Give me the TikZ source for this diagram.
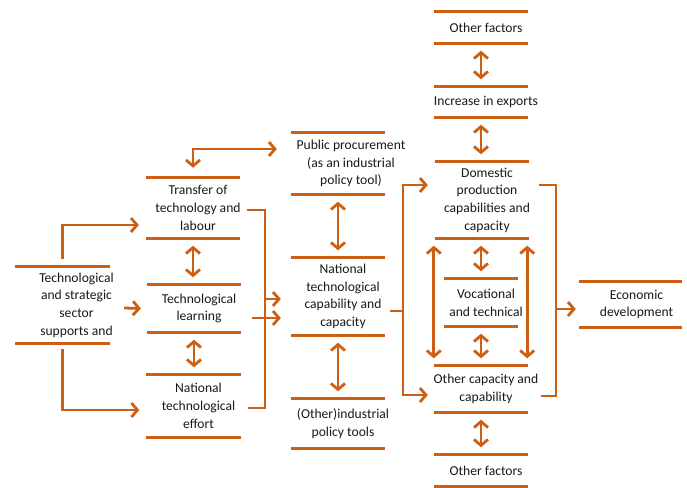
\documentclass[tikz,border=0pt]{standalone}
\usepackage{fontspec}
\setmainfont{Carlito}
\usetikzlibrary{arrows.meta}

\definecolor{rust}{RGB}{204,95,20}
\definecolor{ink}{RGB}{25,25,25}

\tikzset{
  box/.style 2 args={minimum width=#1pt,minimum height=#2pt,inner sep=0pt},
  txt/.style={font=\fontsize{13.6}{17.7}\selectfont,align=center,text=ink,inner sep=0pt,xshift=5pt},
  rule/.style={draw=rust,line width=2.8pt},
  link/.style={draw=rust,line width=2.8pt,line join=miter,>={Straight Barb[length=6pt,width=14pt]}},
  pair/.style={link,<->,shorten <=7.5pt,shorten >=7.5pt}
}

\begin{document}
\begin{tikzpicture}[x=1pt,y=-1pt]
		\useasboundingbox (0,0) rectangle (687,487);
		% left block
		\node[box={95}{76},label={[txt,xshift=9pt]center:Technological\\and strategic\\sector\\supports and}] (ltech) at (62.5,305) {};
		\node[box={94}{60},label={[txt]center:Transfer of\\technology and\\labour}] (transfer) at (193,208) {};
		\node[box={94}{47},label={[txt]center:Technological\\learning}] (learning) at (194,308.5) {};
		\node[box={94}{62},label={[txt]center:National\\technological\\effort}] (effort) at (193.5,406) {};
		% middle column
		\node[box={94}{61},label={[txt,xshift=8pt]center:Public procurement\\(as an industrial\\policy tool)}] (procure) at (338,163.5) {};
		\node[box={94}{77},label={[txt]center:National\\technological\\capability and\\capacity}] (natcap) at (338,296.5) {};
		\node[box={94}{49},label={[txt]center:(Other)industrial\\policy tools}] (othpol) at (338,423.5) {};
		% right column
		\node[box={94}{31},label={[txt]center:Other factors}] (topfac) at (481,27.5) {};
		\node[box={94}{30},label={[txt]center:Increase in exports}] (exports) at (481,102) {};
		\node[box={94}{76},label={[txt]center:Domestic\\production\\capabilities and\\capacity}] (domestic) at (482,200) {};
		\node[box={74}{47},label={[txt]center:Vocational\\and technical}] (vocat) at (481,302.5) {};
		\node[box={94}{46},label={[txt]center:Other capacity and\\capability}] (othcap) at (481,389) {};
		\node[box={94}{31},label={[txt]center:Other factors}] (botfac) at (481,470.5) {};
		\node[box={103}{45},label={[txt,xshift=1pt]center:Economic\\development}] (econ) at (630.5,304.5) {};
		\foreach \n in {ltech,transfer,learning,effort,procure,natcap,othpol,topfac,exports,domestic,vocat,othcap,botfac,econ}
			\draw[rule] (\n.north west) -- (\n.north east) (\n.south west) -- (\n.south east);
		% joints of the brackets
		\coordinate (mjoin) at (265,299);
		\coordinate (rjoin) at (403,311);
		\coordinate (ejoin) at (556,309);
		% left connectors
		\draw[link,->] ([yshift=8pt]ltech.north) |- ([shift={(-7pt,-17pt)}]transfer.west);
		\draw[link,->] ([yshift=-6pt]ltech.south) |- ([shift={(-7pt,-4pt)}]effort.west);
		\draw[link,->] ([shift={(14pt,-3pt)}]ltech.east) -- ([xshift=-6pt]learning.west);
		\draw[pair] (transfer.south) -- (transfer.south |- learning.north);
		\draw[pair] (learning.south) -- (learning.south |- effort.north);
		\draw[link,<->] ([yshift=10pt]transfer.north) |- ([shift={(-14pt,14.5pt)}]procure.west);
		\draw[link] ([shift={(7pt,-2pt)}]transfer.east) -| (mjoin) |- ([shift={(7pt,-2pt)}]effort.east);
		\draw[link,->] (mjoin) -- ([shift={(-10pt,-2.5pt)}]natcap.west);
		\draw[link,->] ([shift={(11pt,-9.5pt)}]learning.east) -- ([shift={(-10pt,-21.5pt)}]natcap.west);
		% middle connectors
		\draw[pair] (procure.south) -- (procure.south |- natcap.north);
		\draw[pair] (natcap.south) -- (natcap.south |- othpol.north);
		\draw[link] ([shift={(5pt,-14.5pt)}]natcap.east) -- (rjoin);
		\draw[link,<->] ([shift={(-7pt,15pt)}]domestic.west) -| (rjoin) |- ([shift={(-6pt,-6pt)}]othcap.west);
		% right column connectors
		\draw[pair] (topfac.south) -- (topfac.south |- exports.north);
		\draw[pair] (exports.south) -- (exports.south |- domestic.north);
		\draw[pair] ([xshift=-1pt]domestic.south) -- ([xshift=-1pt]domestic.south |- vocat.north);
		\draw[pair] (vocat.south) -- (vocat.south |- othcap.north);
		\draw[pair] (othcap.south) -- (othcap.south |- botfac.north);
		\draw[pair] ([xshift=-1pt]domestic.south west) -- ([xshift=-1pt]domestic.south west |- othcap.north west);
		\draw[pair] ([xshift=-2pt]domestic.south east) -- ([xshift=-2pt]domestic.south east |- othcap.north east);
		\draw[link] ([shift={(10pt,15pt)}]domestic.east) -| (ejoin) |- ([shift={(13pt,-7pt)}]othcap.east);
		\draw[link,->] (ejoin) -- ([shift={(-3pt,-4.5pt)}]econ.west);
	\end{tikzpicture}
\end{document}
